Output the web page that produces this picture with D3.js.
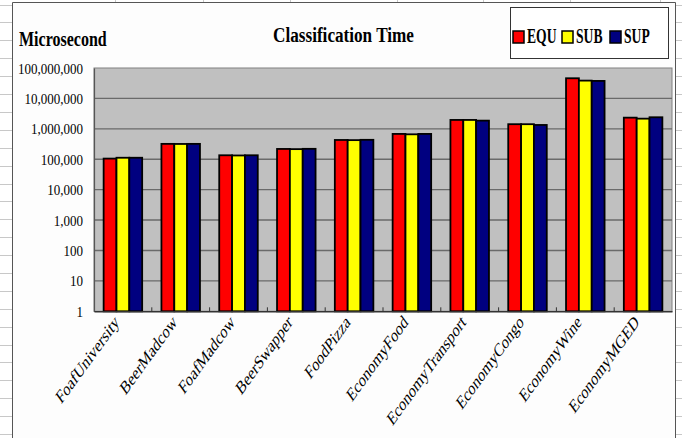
<!DOCTYPE html>
<html>
<head>
<meta charset="utf-8">
<script src="https://cdn.jsdelivr.net/npm/d3@7/dist/d3.min.js"></script>
<style>
  html, body { margin: 0; padding: 0; background: #ffffff; }
  svg { display: block; }
  text { font-family: "Liberation Serif", "Times New Roman", serif; fill: #000; }
</style>
</head>
<body>
<svg id="chart" width="682" height="438"></svg>
<script>
// ---- data ----
const categories = ["FoafUniversity", "BeerMadcow", "FoafMadcow", "BeerSwapper", "FoodPizza",
  "EconomyFood", "EconomyTransport", "EconomyCongo", "EconomyWine", "EconomyMGED"];
const seriesNames = ["EQU", "SUB", "SUP"];
const equ = [105000, 320000, 135000, 218000, 430000, 680000, 1960000, 1420000, 46000000, 2330000];
const sub = [112000, 318000, 133000, 215000, 425000, 660000, 1960000, 1420000, 38500000, 2160000];
const sup = [112000, 320000, 135000, 220000, 435000, 680000, 1860000, 1340000, 37600000, 2400000];
const yTicks = [1, 10, 100, 1000, 10000, 100000, 1000000, 10000000, 100000000];
const colors = ["#ff0000", "#ffff00", "#000080"];
const chartTitle = "Classification Time";
const yAxisTitle = "Microsecond";

const seriesValues = [equ, sub, sup];
const svg = d3.select("#chart");
const W = 682, H = 438;
const SX = 0.8; // horizontal squeeze of text in the original picture

// ---- spreadsheet background lines outside chart frame ----
const frame = { x: 12.5, y: 2.5, r: 675.5 };
const sheet = svg.append("g").attr("stroke", "#c8c8c8").attr("stroke-width", 1);
for (let yy = 4.5; yy < H; yy += 17.9) {
  sheet.append("line").attr("x1", 0).attr("x2", frame.x).attr("y1", Math.round(yy) + 0.5).attr("y2", Math.round(yy) + 0.5);
  sheet.append("line").attr("x1", frame.r).attr("x2", W).attr("y1", Math.round(yy) + 0.5).attr("y2", Math.round(yy) + 0.5);
}
[115, 203, 290, 397, 483, 570, 660].forEach(x => {
  sheet.append("line").attr("x1", x + 0.5).attr("x2", x + 0.5).attr("y1", 0).attr("y2", frame.y);
});

// chart frame
svg.append("path")
  .attr("d", `M${frame.x},${H} V${frame.y} H${frame.r} V${H}`)
  .attr("fill", "#fdfdfd").attr("stroke", "#555").attr("stroke-width", 1);

// ---- plot area ----
const plot = { left: 94, top: 68, right: 672, bottom: 311.3 };

const x0 = d3.scaleBand().domain(categories).range([plot.left, plot.right]).paddingInner(0).paddingOuter(0);
const barW = x0.bandwidth() / 4.5;
const x1 = d3.scaleBand().domain(seriesNames).range([0, barW * 3]);
const y = d3.scaleLog().domain([1, 100000000]).range([plot.bottom, plot.top]);

svg.append("rect")
  .attr("x", plot.left).attr("y", plot.top)
  .attr("width", plot.right - plot.left).attr("height", plot.bottom - plot.top)
  .attr("fill", "#c0c0c0").attr("stroke", "#808080").attr("stroke-width", 1);

// gridlines
svg.append("g")
  .selectAll("line").data(yTicks.slice(1, -1)).join("line")
  .attr("x1", plot.left).attr("x2", plot.right)
  .attr("y1", d => y(d)).attr("y2", d => y(d))
  .attr("stroke", "#6a6a6a").attr("stroke-width", 1.4);

// y axis
const yAxis = d3.axisLeft(y).tickValues(yTicks).tickFormat(d3.format(",")).tickSize(0).tickPadding(0);
const yg = svg.append("g").attr("transform", `translate(${plot.left},0)`).call(yAxis);
yg.select(".domain").attr("stroke", "#555").attr("stroke-width", 1.2);
yg.selectAll(".tick text").remove();
yg.selectAll(".tick").each(function(d) {
  const g = d3.select(this).append("g").attr("transform", `translate(-11,5) scale(0.93,1)`);
  g.append("text").attr("text-anchor", "end").attr("font-size", 14).text(d3.format(",")(d));
});

// bars
const groups = svg.append("g").selectAll("g").data(categories).join("g")
  .attr("transform", d => `translate(${x0(d) + (x0.bandwidth() - barW * 3) / 2},0)`);
groups.selectAll("rect").data((c, i) => seriesNames.map((s, j) => ({ s, v: seriesValues[j][i], j })))
  .join("rect")
  .attr("x", d => x1(d.s))
  .attr("y", d => y(d.v))
  .attr("width", barW)
  .attr("height", d => plot.bottom - y(d.v))
  .attr("fill", d => colors[d.j])
  .attr("stroke", "#000").attr("stroke-width", 1.8);

// x axis
const xAxis = d3.axisBottom(x0).tickSize(0).tickFormat("");
const xg = svg.append("g").attr("transform", `translate(0,${plot.bottom})`).call(xAxis);
xg.select(".domain").attr("stroke", "#333").attr("stroke-width", 1.5);
// category separator ticks (pointing up)
svg.append("g").selectAll("line").data(categories.slice(1)).join("line")
  .attr("x1", d => x0(d)).attr("x2", d => x0(d))
  .attr("y1", plot.bottom - 4).attr("y2", plot.bottom)
  .attr("stroke", "#333").attr("stroke-width", 1);

// x labels
svg.append("g").selectAll("g").data(categories).join("g")
  .attr("transform", d => `translate(${x0(d) + x0.bandwidth() / 2 - 3},${plot.bottom + 12}) scale(0.72,1)`)
  .append("text")
  .attr("transform", "rotate(-45)")
  .attr("text-anchor", "end")
  .attr("font-size", 19)
  .text(d => d);

// titles
svg.append("g").attr("transform", `translate(19,46) scale(${SX},1)`)
  .append("text").attr("font-size", 20).attr("font-weight", "bold").text(yAxisTitle);
svg.append("g").attr("transform", `translate(343.5,42) scale(0.78,1)`)
  .append("text").attr("font-size", 22).attr("font-weight", "bold").attr("text-anchor", "middle").text(chartTitle);

// legend
const lg = svg.append("g");
lg.append("rect").attr("x", 510.5).attr("y", 7.5).attr("width", 158).attr("height", 51)
  .attr("fill", "#fff").attr("stroke", "#333").attr("stroke-width", 1);
const legX = [513, 562, 610];
seriesNames.forEach((s, j) => {
  lg.append("rect").attr("x", legX[j]).attr("y", 31).attr("width", 11).attr("height", 12)
    .attr("fill", colors[j]).attr("stroke", "#000").attr("stroke-width", 1.5);
  lg.append("g").attr("transform", `translate(${legX[j] + 14},43) scale(0.68,1)`)
    .append("text").attr("font-size", 20).attr("font-weight", "bold").text(s);
});
</script>
</body>
</html>
